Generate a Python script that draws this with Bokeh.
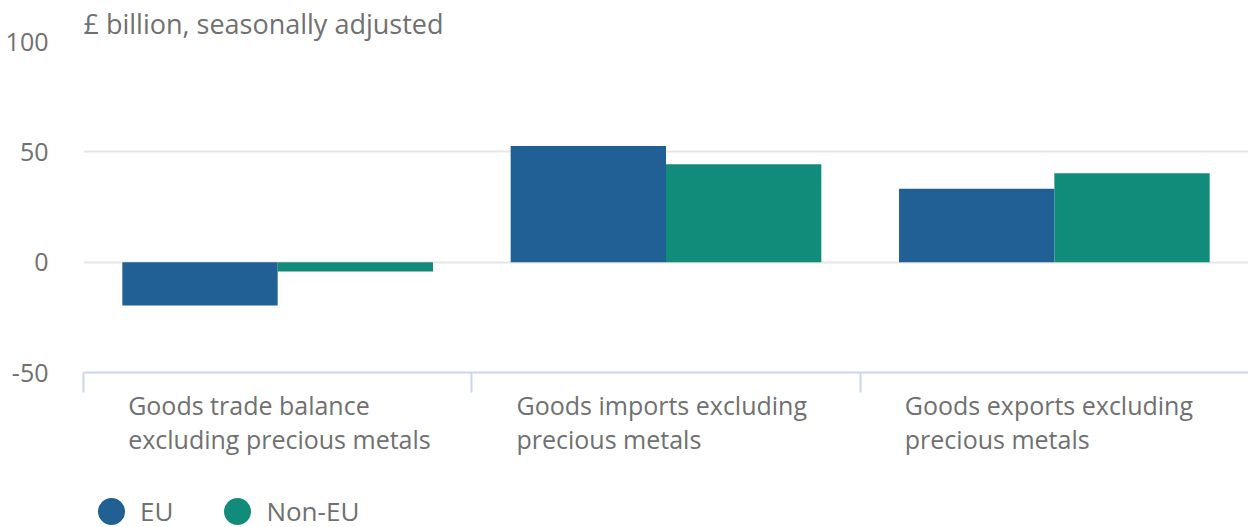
from bokeh.plotting import figure
from bokeh.layouts import column
from bokeh.models import Range1d, FixedTicker, Legend, LegendItem, CustomJSTickFormatter
from bokeh.embed import file_html
from bokeh.resources import INLINE

# ---- data ----
categories = ["Goods trade balance\nexcluding precious metals",
              "Goods imports excluding\nprecious metals",
              "Goods exports excluding\nprecious metals"]
series_names = ["EU", "Non-EU"]
eu_values = [-19.6, 52.6, 33.3]
non_eu_values = [-4.2, 44.4, 40.3]
y_ticks = [-50, 0, 50, 100]
unit_title = "£ billion, seasonally adjusted"

# ---- styles ----
colors = ["#206095", "#118c7b"]
text_color = "#707071"
font = "Open Sans"

n = len(categories)
p = figure(frame_width=1165, frame_height=331, x_range=Range1d(0, n), y_range=Range1d(-50, 100),
           output_backend="svg", toolbar_location=None,
           min_border_left=83, min_border_right=0, min_border_top=41, min_border_bottom=103)
p.outline_line_color = None

# unit title
p.title.text = unit_title
p.title.align = "left"
p.title.standoff = 0
p.title.text_font = font
p.title.text_font_size = "27px"
p.title.text_font_style = "normal"
p.title.text_color = text_color

bar_w = 0.4
p.vbar(x=[i + 0.3 for i in range(n)], top=eu_values, bottom=0, width=bar_w,
       fill_color=colors[0], line_color=None)
p.vbar(x=[i + 0.7 for i in range(n)], top=non_eu_values, bottom=0, width=bar_w,
       fill_color=colors[1], line_color=None)

# grid
p.xgrid.visible = False
p.ygrid.ticker = FixedTicker(ticks=[t for t in y_ticks if t > y_ticks[0]])
p.ygrid.grid_line_color = "#e6e6e6"
p.ygrid.grid_line_width = 2

# y axis
ya = p.yaxis[0]
ya.ticker = FixedTicker(ticks=y_ticks)
ya.formatter = CustomJSTickFormatter(code="return String(tick)")
ya.axis_line_color = None
ya.major_tick_line_color = None
ya.minor_tick_line_color = None
ya.major_tick_out = 0
ya.major_tick_in = 0
ya.major_label_standoff = 35
ya.major_label_text_font = font
ya.major_label_text_font_size = "25px"
ya.major_label_text_color = text_color

# x axis: line, boundary ticks (minor) and left-aligned category labels (major)
xa = p.xaxis[0]
xa.ticker = FixedTicker(ticks=[i + 0.115 for i in range(n)],
                        minor_ticks=[float(i) for i in range(n)])
xa.formatter = CustomJSTickFormatter(args=dict(labels=categories),
                                     code="return labels[Math.floor(tick)]")
xa.axis_line_color = "#ccd6eb"
xa.axis_line_width = 2
xa.major_tick_line_color = None
xa.major_tick_out = 0
xa.major_tick_in = 0
xa.minor_tick_line_color = "#ccd6eb"
xa.minor_tick_line_width = 2
xa.minor_tick_out = 20
xa.minor_tick_in = 0
xa.major_label_orientation = -1e-6
xa.major_label_standoff = 29
xa.major_label_text_font = font
xa.major_label_text_font_size = "25px"
xa.major_label_text_color = text_color
xa.major_label_text_line_height = 1.0

# legend (separate strip under the chart)
lg = figure(width=1248, height=52, x_range=Range1d(0, 1), y_range=Range1d(0, 1),
            output_backend="svg", toolbar_location=None,
            x_axis_location=None, y_axis_location=None,
            min_border_left=0, min_border_right=0, min_border_top=0, min_border_bottom=0)
lg.outline_line_color = None
lg.grid.visible = False
# invisible proxy renderers that only provide the legend swatches
r_eu = lg.scatter(x=[0.5], y=[0.5], marker="circle", fill_color=colors[0],
                  line_color=colors[0], line_width=15, visible=False)
r_ne = lg.scatter(x=[0.5], y=[0.5], marker="circle", fill_color=colors[1],
                  line_color=colors[1], line_width=15, visible=False)
legend = Legend(items=[LegendItem(label=series_names[0], renderers=[r_eu]),
                       LegendItem(label=series_names[1], renderers=[r_ne])],
                location=(13, 15), orientation="horizontal",
                glyph_width=30, glyph_height=30, label_standoff=14, spacing=49,
                padding=0, margin=0, border_line_color=None, background_fill_alpha=0,
                inactive_fill_alpha=0,
                label_text_font=font, label_text_font_size="26px",
                label_text_color=text_color)
lg.add_layout(legend, "center")

page = column(p, lg, spacing=0)
open("out.html", "w").write(file_html(page, INLINE))
